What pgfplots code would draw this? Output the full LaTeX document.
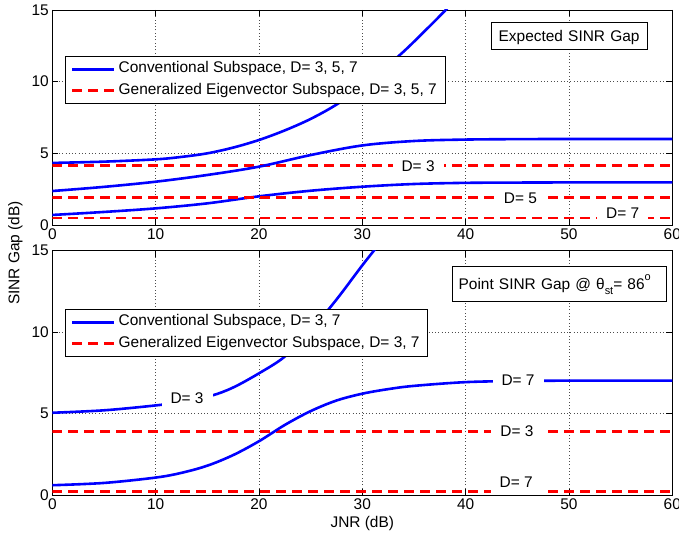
\documentclass[border=0pt]{standalone}
\usepackage{fontspec}
\setmainfont{Liberation Sans}
\usepackage{pgfplots}
\pgfplotsset{compat=1.18}
\definecolor{mblue}{rgb}{0,0,1}
\definecolor{mred}{rgb}{1,0,0}
\newcommand{\fs}{\fontsize{15.5}{18}\selectfont}
\tikzset{
  lab/.style={fill=white, font=\fs, inner xsep=9bp, inner ysep=3bp, text height=11bp, text depth=0bp},
  tbox/.style={draw, line width=0.7bp, fill=white, font=\fs, anchor=west, align=left, text height=11bp, text depth=0bp},
}
\pgfplotsset{
  mstyle/.style={
    scale only axis, width=620bp,
    xmin=0,xmax=60,ymin=0,ymax=15,
    xtick={0,10,...,60}, ytick={0,5,10,15},
    tick align=inside, major tick length=6bp,
    grid=major,
    major grid style={black!70, line width=0.5bp, dash pattern=on 0.8bp off 2.5bp},
    axis line style={line width=0.7bp},
    every tick/.style={black, line width=0.7bp},
    tick label style={font=\fs},
    /pgf/number format/assume math mode=true,
    label style={font=\fs},
    legend cell align=left,
    legend style={draw=black, line width=0.8bp, fill=white, font=\fs,
      inner xsep=5.5bp, inner ysep=2.6bp,
      nodes={inner sep=2.8bp, text height=11bp, text depth=3.5bp},
      row sep=1.6bp, anchor=north west},
    every legend image post/.style={line width=3bp},
    legend image code/.code={\draw[##1, line width=3bp] (0bp,0bp) -- (42bp,0bp);},
  },
  bl/.style={mblue, line width=2.6bp, solid, smooth, tension=0.55},
  rd/.style={mred, line width=2.6bp, dash pattern=on 10bp off 6bp},
}
\begin{document}
\begin{tikzpicture}
\path[use as bounding box] (0,0) rectangle (679bp,535bp);
% ---------------- top axis ----------------
\begin{axis}[mstyle, height=215bp, at={(52.3bp,310bp)}, anchor=south west,
  legend style={at={(0.0205,0.786)}}]
\addplot[bl] coordinates {(0,4.33) (5,4.42) (10,4.58) (12.5,4.75) (15,5.0) (17.5,5.4) (20,5.93) (22.5,6.6) (25,7.4) (27.5,8.4) (30,9.65) (32,10.85) (34,12.1) (36,13.5) (38,14.95) (40,16.5)};
\addlegendentry{Conventional Subspace, D= 3, 5, 7}
\addplot[rd] coordinates {(0,4.14) (60,4.14)};
\addlegendentry{Generalized Eigenvector Subspace, D= 3, 5, 7}
\addplot[bl, forget plot] coordinates {(0,2.37) (5,2.66) (10,3.02) (15,3.49) (20,4.07) (25,4.88) (30,5.55) (35,5.86) (40,5.96) (45,5.99) (50,6.0) (60,6.0)};
\addplot[bl, forget plot] coordinates {(0,0.70) (5,0.91) (10,1.16) (15,1.51) (20,2.0) (25,2.39) (30,2.67) (35,2.86) (40,2.94) (45,2.96) (50,2.97) (60,2.97)};
\addplot[rd, forget plot] coordinates {(0,1.91) (60,1.91)};
\addplot[rd, forget plot] coordinates {(0,0.49) (60,0.49)};
\node[lab] at (axis cs:35.4,4.14) {D= 3};
\node[lab] at (axis cs:45.3,1.88) {D= 5};
\node[lab] at (axis cs:55.2,0.86) {D= 7};
\node[tbox, inner xsep=7.6bp, text width=141.4bp, minimum height=26.3bp] at (axis cs:42.43,13.2) {Expected SINR Gap};
\end{axis}
% ---------------- bottom axis ----------------
\begin{axis}[mstyle, height=244.3bp, at={(52.3bp,40bp)}, anchor=south west,
  xlabel={JNR (dB)},
  legend style={at={(0.0205,0.761)}}]
\addplot[bl] coordinates {(0,5.05) (5,5.2) (10,5.5) (12.5,5.72) (15.4,6.1) (17.5,6.6) (20,7.47) (22.5,8.5) (25,10.1) (27.5,12.0) (30,14.1) (32,15.7)};
\addlegendentry{Conventional Subspace, D= 3, 7}
\addplot[rd] coordinates {(0,3.89) (60,3.89)};
\addlegendentry{Generalized Eigenvector Subspace, D= 3, 7}
\addplot[bl, forget plot] coordinates {(0,0.6) (5,0.74) (10,1.07) (12.5,1.36) (15,1.8) (17.5,2.45) (20,3.3) (22.5,4.3) (25,5.15) (27.5,5.8) (30,6.22) (32.5,6.5) (35,6.7) (40,6.93) (45,7.0) (50,7.02) (60,7.02)};
\addplot[rd, forget plot] coordinates {(0,0.2) (60,0.2)};
\node[lab, inner ysep=4bp] at (axis cs:13.04,5.93) {D= 3};
\node[lab] at (axis cs:45.07,7.05) {D= 7};
\node[lab] at (axis cs:44.97,3.93) {D= 3};
\node[lab, inner ysep=6.5bp] at (axis cs:44.9,0.82) {D= 7};
\node[tbox, inner xsep=6.6bp, text width=200.8bp, minimum height=34.3bp] at (axis cs:38.65,12.96) {Point SINR Gap @ θ\raisebox{-0.6ex}{\fontsize{11}{11}\selectfont st}= 86\raisebox{1.05ex}{\fontsize{11}{11}\selectfont o}};
\end{axis}
\node[rotate=90, font=\fs] at (15.5bp,282bp) {SINR Gap (dB)};
\end{tikzpicture}
\end{document}
